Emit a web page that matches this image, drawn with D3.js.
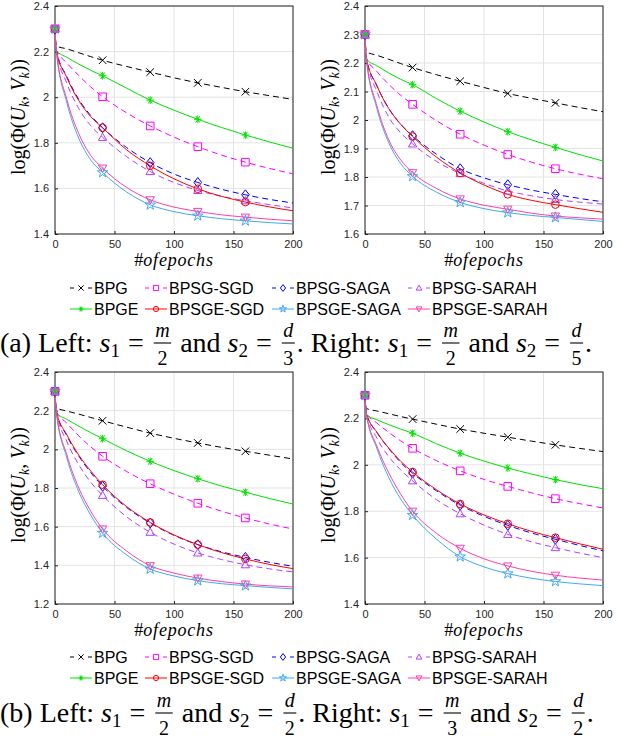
<!DOCTYPE html>
<html>
<head>
<meta charset="utf-8">
<script src="https://d3js.org/d3.v7.min.js"></script>
<style>
  body { margin: 0; background: #fff; }
  text { font-family: "Liberation Sans", Arimo, Arial, sans-serif; }
  .serif { font-family: "Liberation Serif", "Times New Roman", serif; }
</style>
</head>
<body>
<svg id="fig" width="629" height="741"></svg>
<script>
var epochs = [0, 1, 10, 20, 30, 40, 60, 80, 100, 120, 140, 160, 180, 200];
var markEpochs = [0, 40, 80, 120, 160];
var xTicks = [0, 50, 100, 150, 200];

// legend order (4 columns x 2 rows)
var names  = ["BPG", "BPSG-SGD", "BPSG-SAGA", "BPSG-SARAH", "BPGE", "BPSGE-SGD", "BPSGE-SAGA", "BPSGE-SARAH"];
var colors = ["#000000", "#ff00ff", "#0000ff", "#b041ff", "#00e000", "#ff0000", "#3fa9f5", "#ff3fa8"];
var dashed = [true, true, true, true, false, false, false, false];
var marks  = ["x", "square", "diamond", "up", "asterisk", "circle", "star", "down"];

// (a) left : s1 = m/2, s2 = d/3
var valsA1 = [
  [2.3, 2.225, 2.212, 2.195, 2.178, 2.162, 2.135, 2.110, 2.085, 2.063, 2.043, 2.024, 2.007, 1.990],
  [2.3, 2.21, 2.15, 2.095, 2.045, 2.002, 1.932, 1.874, 1.825, 1.783, 1.746, 1.715, 1.688, 1.664],
  [2.3, 2.21, 2.09, 1.99, 1.92, 1.866, 1.78, 1.713, 1.663, 1.626, 1.596, 1.572, 1.552, 1.536],
  [2.3, 2.21, 2.06, 1.95, 1.875, 1.824, 1.74, 1.674, 1.626, 1.591, 1.565, 1.546, 1.529, 1.514],
  [2.3, 2.205, 2.175, 2.145, 2.118, 2.094, 2.04, 1.987, 1.943, 1.903, 1.867, 1.834, 1.804, 1.776],
  [2.3, 2.21, 2.085, 1.985, 1.915, 1.866, 1.77, 1.699, 1.642, 1.598, 1.565, 1.540, 1.519, 1.502],
  [2.3, 2.21, 1.975, 1.82, 1.725, 1.670, 1.585, 1.528, 1.498, 1.480, 1.467, 1.458, 1.450, 1.444],
  [2.3, 2.21, 1.99, 1.84, 1.745, 1.689, 1.605, 1.550, 1.518, 1.499, 1.484, 1.474, 1.465, 1.458]
];
// (a) right : s1 = m/2, s2 = d/5
var valsA2 = [
  [2.3, 2.24, 2.227, 2.213, 2.198, 2.184, 2.159, 2.136, 2.114, 2.093, 2.076, 2.060, 2.044, 2.029],
  [2.3, 2.22, 2.17, 2.125, 2.087, 2.055, 1.998, 1.950, 1.912, 1.879, 1.852, 1.829, 1.810, 1.794],
  [2.3, 2.22, 2.12, 2.04, 1.985, 1.945, 1.88, 1.829, 1.797, 1.773, 1.754, 1.739, 1.725, 1.713],
  [2.3, 2.22, 2.10, 2.01, 1.955, 1.916, 1.855, 1.812, 1.778, 1.751, 1.734, 1.721, 1.712, 1.705],
  [2.3, 2.215, 2.19, 2.165, 2.143, 2.124, 2.075, 2.031, 1.993, 1.959, 1.930, 1.904, 1.879, 1.856],
  [2.3, 2.22, 2.12, 2.04, 1.985, 1.942, 1.87, 1.814, 1.772, 1.739, 1.718, 1.703, 1.689, 1.676],
  [2.3, 2.22, 2.04, 1.92, 1.847, 1.802, 1.747, 1.711, 1.689, 1.675, 1.665, 1.658, 1.651, 1.644],
  [2.3, 2.22, 2.05, 1.93, 1.86, 1.815, 1.76, 1.723, 1.701, 1.687, 1.673, 1.663, 1.657, 1.652]
];
// (b) left : s1 = m/2, s2 = d/2
var valsB1 = [
  [2.3, 2.215, 2.198, 2.182, 2.165, 2.148, 2.115, 2.084, 2.057, 2.033, 2.010, 1.990, 1.970, 1.950],
  [2.3, 2.20, 2.135, 2.07, 2.013, 1.964, 1.886, 1.822, 1.768, 1.721, 1.680, 1.645, 1.614, 1.588],
  [2.3, 2.20, 2.07, 1.965, 1.88, 1.809, 1.70, 1.619, 1.555, 1.507, 1.470, 1.441, 1.416, 1.395],
  [2.3, 2.20, 2.04, 1.92, 1.83, 1.762, 1.652, 1.571, 1.510, 1.464, 1.430, 1.403, 1.382, 1.366],
  [2.3, 2.19, 2.155, 2.12, 2.086, 2.055, 1.993, 1.938, 1.890, 1.848, 1.810, 1.778, 1.746, 1.717],
  [2.3, 2.20, 2.075, 1.97, 1.888, 1.817, 1.705, 1.622, 1.557, 1.507, 1.466, 1.433, 1.405, 1.383],
  [2.3, 2.20, 1.955, 1.78, 1.66, 1.567, 1.455, 1.381, 1.345, 1.321, 1.305, 1.295, 1.286, 1.278],
  [2.3, 2.20, 1.97, 1.80, 1.68, 1.588, 1.475, 1.398, 1.360, 1.334, 1.316, 1.303, 1.294, 1.288]
];
// (b) right : s1 = m/3, s2 = d/2
var valsB2 = [
  [2.3, 2.243, 2.232, 2.22, 2.208, 2.197, 2.175, 2.154, 2.136, 2.119, 2.102, 2.086, 2.071, 2.057],
  [2.3, 2.225, 2.18, 2.14, 2.103, 2.071, 2.018, 1.974, 1.937, 1.907, 1.879, 1.854, 1.833, 1.814],
  [2.3, 2.225, 2.14, 2.07, 2.01, 1.964, 1.888, 1.826, 1.778, 1.739, 1.706, 1.679, 1.653, 1.629],
  [2.3, 2.225, 2.115, 2.035, 1.978, 1.931, 1.85, 1.789, 1.740, 1.700, 1.668, 1.643, 1.620, 1.600],
  [2.3, 2.217, 2.194, 2.173, 2.154, 2.136, 2.091, 2.050, 2.016, 1.986, 1.960, 1.936, 1.915, 1.897],
  [2.3, 2.225, 2.14, 2.072, 2.015, 1.969, 1.893, 1.831, 1.784, 1.746, 1.713, 1.686, 1.660, 1.636],
  [2.3, 2.225, 2.07, 1.945, 1.852, 1.783, 1.68, 1.604, 1.560, 1.531, 1.511, 1.497, 1.487, 1.479],
  [2.3, 2.225, 2.08, 1.965, 1.873, 1.800, 1.705, 1.640, 1.595, 1.564, 1.541, 1.524, 1.512, 1.503]
];

var svg = d3.select("#fig");
var NB = "\u00a0";

function markerPath(type, r) {
  var p = d3.path();
  if (type == "x") {
    p.moveTo(-r, -r); p.lineTo(r, r); p.moveTo(-r, r); p.lineTo(r, -r);
  } else if (type == "square") {
    p.rect(-r, -r, 2 * r, 2 * r);
  } else if (type == "diamond") {
    var h = r * 1.3;
    p.moveTo(0, -h); p.lineTo(r, 0); p.lineTo(0, h); p.lineTo(-r, 0); p.closePath();
  } else if (type == "up") {
    p.moveTo(0, -r * 1.1); p.lineTo(r * 1.1, r * 0.8); p.lineTo(-r * 1.1, r * 0.8); p.closePath();
  } else if (type == "down") {
    p.moveTo(0, r * 1.1); p.lineTo(r * 1.1, -r * 0.8); p.lineTo(-r * 1.1, -r * 0.8); p.closePath();
  } else if (type == "circle") {
    p.moveTo(r, 0); p.arc(0, 0, r, 0, 2 * Math.PI);
  } else if (type == "asterisk") {
    p.moveTo(-r, 0); p.lineTo(r, 0);
    var c = r * 0.5, s = r * 0.866;
    p.moveTo(-c, -s); p.lineTo(c, s); p.moveTo(-c, s); p.lineTo(c, -s);
    p.moveTo(0, -r); p.lineTo(0, r);
    return p.toString();
  } else if (type == "star") {
    return d3.symbol(d3.symbolStar, r * r * 2.4)();
  }
  return p.toString();
}

function drawPanel(px, py, pw, ph, yDom, yStep, vals) {
  var g = svg.append("g");
  var x = d3.scaleLinear().domain([0, 200]).range([px, px + pw]);
  var y = d3.scaleLinear().domain(yDom).range([py + ph, py]);
  var yTicks = d3.range(yDom[0], yDom[1] + 1e-6, yStep).map(function(v) { return Math.round(v * 10) / 10; });

  // grid
  g.selectAll(".gx").data(xTicks).enter().append("line")
    .attr("x1", function(d) { return x(d); }).attr("x2", function(d) { return x(d); })
    .attr("y1", py).attr("y2", py + ph)
    .attr("stroke", "#e3e3e3").attr("stroke-width", 1);
  g.selectAll(".gy").data(yTicks).enter().append("line")
    .attr("x1", px).attr("x2", px + pw)
    .attr("y1", function(d) { return y(d); }).attr("y2", function(d) { return y(d); })
    .attr("stroke", "#e3e3e3").attr("stroke-width", 1);

  // axes with inner ticks, MATLAB style
  var ax = g.append("g").attr("transform", "translate(0," + (py + ph) + ")")
    .call(d3.axisBottom(x).tickValues(xTicks).tickSizeInner(-3).tickSizeOuter(0).tickPadding(6));
  var ay = g.append("g").attr("transform", "translate(" + px + ",0)")
    .call(d3.axisLeft(y).tickValues(yTicks).tickSizeInner(-3).tickSizeOuter(0).tickPadding(6)
      .tickFormat(function(d) { return String(d); }));
  [ax, ay].forEach(function(a) {
    a.select(".domain").remove();
    a.selectAll("line").attr("stroke", "#262626");
    a.selectAll("text").attr("fill", "#262626").style("font-size", "11px")
      .style("font-family", "'Liberation Sans', Arimo, Arial, sans-serif");
  });
  g.append("rect").attr("x", px).attr("y", py).attr("width", pw).attr("height", ph)
    .attr("fill", "none").attr("stroke", "#262626").attr("stroke-width", 1);

  var line = d3.line()
    .x(function(d, i) { return x(epochs[i]); })
    .y(function(d) { return y(d); })
    .curve(d3.curveMonotoneX);

  vals.forEach(function(s, k) {
    g.append("path").attr("d", line(s))
      .attr("fill", "none").attr("stroke", colors[k]).attr("stroke-width", 1)
      .attr("stroke-dasharray", dashed[k] ? "6,4" : null);
  });
  vals.forEach(function(s, k) {
    markEpochs.forEach(function(e) {
      var i = epochs.indexOf(e);
      g.append("path").attr("d", markerPath(marks[k], 3.8))
        .attr("transform", "translate(" + x(e) + "," + y(s[i]) + ")")
        .attr("fill", "none").attr("stroke", colors[k]).attr("stroke-width", 1);
    });
  });

  // y label
  var yl = g.append("text").attr("class", "serif")
    .attr("transform", "translate(" + (px - 30) + "," + (py + ph / 2 - 3) + ") rotate(-90)")
    .attr("text-anchor", "middle").style("font-size", "20px").attr("fill", "#000");
  yl.append("tspan").text("log(\u03a6(");
  yl.append("tspan").style("font-style", "italic").text("U");
  yl.append("tspan").style("font-style", "italic").style("font-size", "14px").attr("dy", 4).text("k");
  yl.append("tspan").attr("dy", -4).text("," + NB);
  yl.append("tspan").style("font-style", "italic").text("V");
  yl.append("tspan").style("font-style", "italic").style("font-size", "14px").attr("dy", 4).text("k");
  yl.append("tspan").attr("dy", -4).text("))");

  // x label
  var xl = g.append("text").attr("class", "serif")
    .attr("x", px + pw / 2).attr("y", py + ph + 32)
    .attr("text-anchor", "middle").style("font-size", "18px").attr("fill", "#000");
  xl.append("tspan").text("#");
  xl.append("tspan").style("font-style", "italic").attr("letter-spacing", "0.8px").text("ofepochs");
}

function drawLegend(y0) {
  var colX = [70, 145, 272, 408];
  names.forEach(function(n, k) {
    var cx = colX[k % 4], cy = y0 + Math.floor(k / 4) * 21;
    svg.append("line").attr("x1", cx).attr("x2", cx + 22).attr("y1", cy).attr("y2", cy)
      .attr("stroke", colors[k]).attr("stroke-width", 1)
      .attr("stroke-dasharray", dashed[k] ? "4,14,4" : null);
    svg.append("path").attr("d", markerPath(marks[k], 2.6))
      .attr("transform", "translate(" + (cx + 11) + "," + cy + ")")
      .attr("fill", "none").attr("stroke", colors[k]).attr("stroke-width", 1);
    svg.append("text").attr("x", cx + 24).attr("y", cy).attr("dy", "0.36em")
      .style("font-size", "16px").attr("fill", "#000").text(n);
  });
}

function drawCaption(yb, tokens) {
  var g = svg.append("g").attr("class", "serif");
  var x = 0, fs = 28;
  function put(str, opts) {
    var t = g.append("text").attr("class", "serif").attr("x", x).attr("y", yb + (opts.dy || 0))
      .style("font-size", (opts.size || fs) + "px").attr("fill", "#000").text(str);
    if (opts.italic) t.style("font-style", "italic");
    return t.node().getComputedTextLength();
  }
  tokens.forEach(function(tk) {
    if (tk.t) {
      x += put(tk.t, {});
    } else if (tk.v) {
      x += put(tk.v, { italic: true });
      x += put(tk.sub, { size: 19, dy: 5 });
    } else if (tk.eq) {
      x += 8;
      x += put("=", {});
      x += 8;
    } else if (tk.f) {
      var fsz = 20;
      x += 2;
      var num = g.append("text").attr("class", "serif").attr("y", yb - 15).attr("text-anchor", "middle")
        .style("font-size", fsz + "px").style("font-style", "italic").text(tk.f[0]);
      var den = g.append("text").attr("class", "serif").attr("y", yb + 13).attr("text-anchor", "middle")
        .style("font-size", fsz + "px").text(tk.f[1]);
      var w = Math.max(num.node().getComputedTextLength(), den.node().getComputedTextLength()) + 3;
      num.attr("x", x + w / 2); den.attr("x", x + w / 2);
      g.append("line").attr("x1", x).attr("x2", x + w).attr("y1", yb - 9).attr("y2", yb - 9)
        .attr("stroke", "#000").attr("stroke-width", 1.1);
      x += w + 2;
    }
  });
}

function capTokens(label, a1, b1, a2, b2) {
  return [
    { t: "(" + label + ")" + NB + "Left:" + NB },
    { v: "s", sub: "1" }, { eq: 1 }, { f: a1 },
    { t: NB + "and" + NB }, { v: "s", sub: "2" }, { eq: 1 }, { f: b1 },
    { t: "." + NB + "Right:" + NB },
    { v: "s", sub: "1" }, { eq: 1 }, { f: a2 },
    { t: NB + "and" + NB }, { v: "s", sub: "2" }, { eq: 1 }, { f: b2 },
    { t: "." }
  ];
}

drawPanel(55, 6, 238, 228, [1.4, 2.4], 0.2, valsA1);
drawPanel(365, 6, 238, 228, [1.6, 2.4], 0.1, valsA2);
drawLegend(288);
drawCaption(352, capTokens("a", ["m", "2"], ["d", "3"], ["m", "2"], ["d", "5"]));

drawPanel(55, 372, 238, 232, [1.2, 2.4], 0.2, valsB1);
drawPanel(365, 372, 238, 232, [1.4, 2.4], 0.2, valsB2);
drawLegend(657);
drawCaption(722, capTokens("b", ["m", "2"], ["d", "2"], ["m", "3"], ["d", "2"]));
</script>
</body>
</html>
